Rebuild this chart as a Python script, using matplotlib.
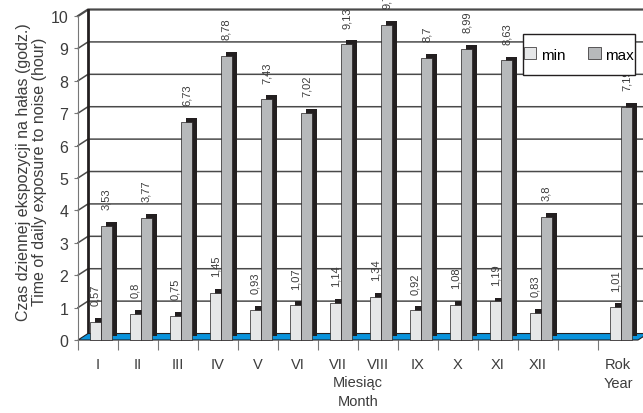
import matplotlib.pyplot as plt
from matplotlib.patches import Rectangle
import numpy as np

plt.rcParams['font.family'] = ['Liberation Sans Narrow', 'Liberation Sans', 'DejaVu Sans']

months = ["I", "II", "III", "IV", "V", "VI", "VII", "VIII", "IX", "X", "XI", "XII", "", "Rok\nYear"]
slots = [0, 1, 2, 3, 4, 5, 6, 7, 8, 9, 10, 11, 13]  # slot 12 is left empty
min_vals = [0.57, 0.8, 0.75, 1.45, 0.93, 1.07, 1.14, 1.34, 0.92, 1.08, 1.19, 0.83, 1.01]
max_vals = [3.53, 3.77, 6.73, 8.78, 7.43, 7.02, 9.13, 9.72, 8.7, 8.99, 8.63, 3.8, 7.19]

c_min = "#e6e7e8"
c_max = "#b7b9bb"
c_dark = "#231f20"
c_floor = "#0a93dc"
c_text = "#3c3c3c"

dx, dy = 0.25, 0.2      # depth of the back wall (data units)
bx, by = 0.12, 0.12     # depth of the bars
w = 0.275

fig = plt.figure(figsize=(6.43, 4.14), dpi=100)
ax = fig.add_axes([78 / 643, 73 / 414, 560 / 643, 324 / 414])
ax.set_xlim(0, 14)
ax.set_ylim(0, 10)

# back wall grid with slanted joins to the front axis
for v in range(1, 11):
    ax.plot([0, dx, 14.6], [v, v + dy, v + dy], color="#4a4a4a",
            lw=1.6 if v == 10 else 1.1, clip_on=False, zorder=1)
ax.plot([dx, dx], [dy, 10 + dy], color=c_dark, lw=2, clip_on=False, zorder=1)

# floor
ax.fill([0, 14, 14 + dx, dx], [0, 0, dy, dy], color=c_floor, ec=c_dark,
        lw=0.8, clip_on=False, zorder=2)

x = np.array(slots)
xmin = x + 0.4375
xmax = x + 0.7125

# dark sides / tops of the boxes
ax.bar(xmin + bx, min_vals, w, bottom=by, color=c_dark, zorder=3, clip_on=False)
ax.bar(xmax + bx, max_vals, w, bottom=by, color=c_dark, zorder=3, clip_on=False)
b1 = ax.bar(xmin, min_vals, w, color=c_min, ec=c_dark, lw=0.5, label="min", zorder=4, clip_on=False)
b2 = ax.bar(xmax, max_vals, w, color=c_max, ec=c_dark, lw=0.5, label="max", zorder=4, clip_on=False)

fmt = lambda v: f"{v:g}".replace(".", ",")
ax.bar_label(b1, labels=[fmt(v) for v in min_vals], rotation=90, padding=12,
             fontsize=8, color=c_text, zorder=5, clip_on=False)
ax.bar_label(b2, labels=[fmt(v) for v in max_vals], rotation=90, padding=12,
             fontsize=8, color=c_text, zorder=5, clip_on=False)

for s in ["top", "right", "bottom"]:
    ax.spines[s].set_visible(False)
ax.spines["left"].set_color("#777777")

ax.set_yticks(range(0, 11))
ax.tick_params(axis="y", length=3, color="#777777", labelsize=11.5, labelcolor=c_text, pad=4)
ax.set_xticks(range(0, 14))
ax.set_xticklabels([])
ax.set_xticks(np.arange(14) + 0.5, months, minor=True)
ax.tick_params(axis="x", which="major", length=7, color="#777777")
ax.tick_params(axis="x", which="minor", length=0, labelsize=10.5, labelcolor=c_text, pad=12)
for lab in ax.get_xticklabels(minor=True):
    lab.set_linespacing(1.5)

ax.text(7, -1.08, "Miesiąc\nMonth", ha="center", va="top", fontsize=10.5,
        color=c_text, linespacing=1.5)

fig.text(0.049, 0.585, "Czas dziennej ekspozycji na hałas (godz.)\nTime of daily exposure to noise (hour)",
         rotation=90, ha="center", va="center", fontsize=11.5, color=c_text, linespacing=1.15)

# legend box
ax.add_patch(Rectangle((523 / 643, 1 - 76 / 414), 112 / 643, 41 / 414,
                       transform=fig.transFigure, fc="white", ec=c_dark,
                       lw=1, zorder=6, clip_on=False))
leg = ax.legend(handles=[b1, b2], ncol=2, loc="center",
                bbox_to_anchor=(579 / 643, 1 - 55.5 / 414), bbox_transform=fig.transFigure,
                borderaxespad=0, frameon=False, fontsize=11,
                handlelength=0.8, handleheight=0.8, handletextpad=0.3,
                columnspacing=1.5, borderpad=0)
leg.set_zorder(7)

fig.savefig("out.png", dpi=100)
